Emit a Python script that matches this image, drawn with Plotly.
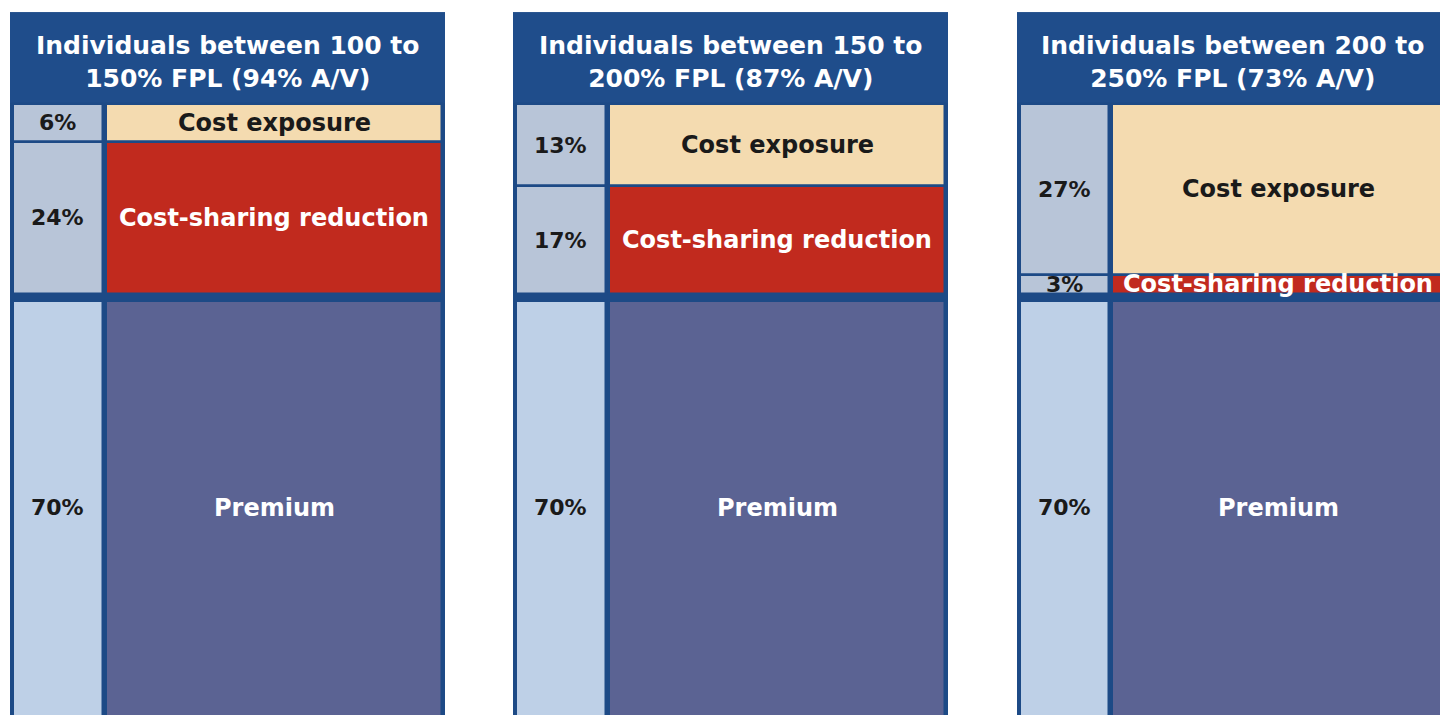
import plotly.graph_objects as go

# ---------------- data ----------------
panel_titles = [
    "Individuals between 100 to<br>150% FPL (94% A/V)",
    "Individuals between 150 to<br>200% FPL (87% A/V)",
    "Individuals between 200 to<br>250% FPL (73% A/V)",
]
segments = ["Cost exposure", "Cost-sharing reduction", "Premium"]
cost_exposure = [6, 13, 27]
cost_sharing_reduction = [24, 17, 3]
premium = [70, 70, 70]

# ---------------- style / layout ----------------
PAGE_OFF = 8          # default body margin of the html page
W, H = 1448 - PAGE_OFF, 715 - PAGE_OFF
PX_PER_PCT = 6.33
DATA_TOP_PX = 104 - PAGE_OFF
Y_TOP = -DATA_TOP_PX / PX_PER_PCT
Y_BOT = (H - DATA_TOP_PX) / PX_PER_PCT
HEADER_TOP = -14.5
GAP = 1.1  # thick separator before premium

panel_px = [(10, 445), (513, 948), (1017, 1447)]
LEFT_X, LEFT_W = 0.110, 0.206
RIGHT_X, RIGHT_W = 0.607, 0.772

FRAME = "#1d4a86"
HEADER = "#1f4d8b"
seg_colors = ["#f4dbb0", "#c12a1e", "#5b6393"]
label_colors = ["#b8c5d8", "#b8c5d8", "#bed0e7"]
seg_text_colors = ["#1a1a1a", "#ffffff", "#ffffff"]
FONT = "DejaVu Sans, Verdana, sans-serif"
FS_HEAD, FS_SEG, FS_PCT = 25, 24, 22

fig = go.Figure()
shapes, annotations = [], []
layout_axes = {}

for i in range(3):
    xa = "x" if i == 0 else f"x{i+1}"
    xkey = "xaxis" if i == 0 else f"xaxis{i+1}"
    d0 = (panel_px[i][0] - PAGE_OFF) / W
    d1 = min((panel_px[i][1] - PAGE_OFF) / W, 1.0)
    layout_axes[xkey] = dict(domain=[d0, d1], range=[0, 1], visible=False,
                             fixedrange=True, anchor="y")

    vals = [cost_exposure[i], cost_sharing_reduction[i], premium[i]]
    bases = [0, vals[0], vals[0] + vals[1] + GAP]

    # frame + header
    shapes.append(dict(type="rect", xref=f"{xa} domain", yref="y",
                       x0=0, x1=1, y0=HEADER_TOP, y1=Y_BOT + 20,
                       fillcolor=FRAME, line=dict(width=0), layer="below"))
    shapes.append(dict(type="rect", xref=f"{xa} domain", yref="y",
                       x0=0, x1=1, y0=HEADER_TOP, y1=-0.15,
                       fillcolor=HEADER, line=dict(width=0), layer="below"))
    annotations.append(dict(xref=f"{xa} domain", yref="y", x=0.5,
                            y=HEADER_TOP / 2, yshift=-4,
                            text=f"<b>{panel_titles[i]}</b>",
                            showarrow=False, align="center",
                            font=dict(family=FONT, size=FS_HEAD, color="white")))

    fig.add_trace(go.Bar(x=[LEFT_X] * 3, y=vals, base=bases, width=LEFT_W,
                         marker=dict(color=label_colors,
                                     line=dict(color=FRAME, width=2.5)),
                         xaxis=xa, yaxis="y", hoverinfo="skip", showlegend=False))
    fig.add_trace(go.Bar(x=[RIGHT_X] * 3, y=vals, base=bases, width=RIGHT_W,
                         marker=dict(color=seg_colors,
                                     line=dict(color=FRAME, width=2.5)),
                         xaxis=xa, yaxis="y", hoverinfo="skip", showlegend=False))

    for j in range(3):
        top = bases[j]
        bot = min(bases[j] + vals[j], Y_BOT)
        ymid = (top + bot) / 2
        annotations.append(dict(xref=xa, yref="y", x=LEFT_X, y=ymid,
                                text=f"<b>{vals[j]}%</b>", showarrow=False,
                                font=dict(family=FONT, size=FS_PCT, color="#1a1a1a")))
        annotations.append(dict(xref=xa, yref="y", x=RIGHT_X, y=ymid,
                                text=f"<b>{segments[j]}</b>", showarrow=False,
                                font=dict(family=FONT, size=FS_SEG,
                                          color=seg_text_colors[j])))

fig.update_layout(
    width=W, height=H, margin=dict(l=0, r=0, t=0, b=0),
    paper_bgcolor="white", plot_bgcolor="white",
    barmode="overlay", bargap=0,
    yaxis=dict(range=[Y_BOT, Y_TOP], visible=False, fixedrange=True),
    shapes=shapes, annotations=annotations,
    **layout_axes,
)

fig.write_html("out.html")
